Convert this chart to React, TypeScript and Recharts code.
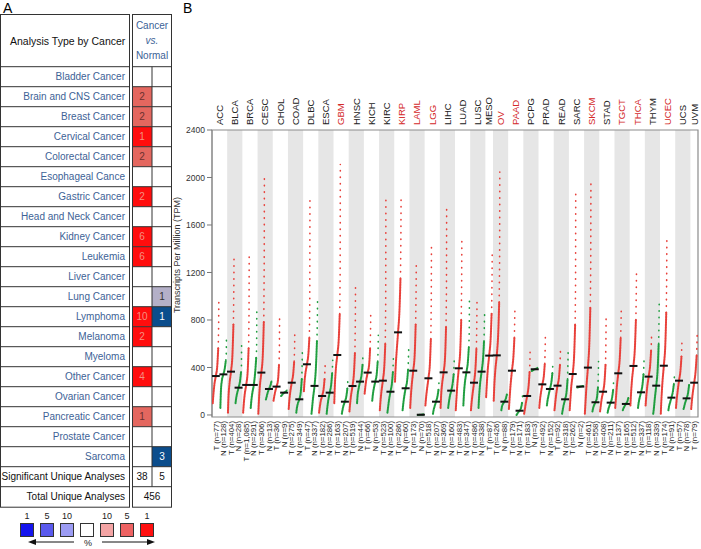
import React from 'react';
import { ScatterChart, Scatter, XAxis, YAxis, ReferenceArea } from 'recharts';

// ---- panel A data (Oncomine summary) ----
const analysisTypes = [
  'Bladder Cancer', 'Brain and CNS Cancer', 'Breast Cancer', 'Cervical Cancer',
  'Colorectal Cancer', 'Esophageal Cance', 'Gastric Cancer', 'Head and Neck Cancer',
  'Kidney Cancer', 'Leukemia', 'Liver Cancer', 'Lung Cancer', 'Lymphoma', 'Melanoma',
  'Myeloma', 'Other Cancer', 'Ovarian Cancer', 'Pancreatic Cancer', 'Prostate Cancer', 'Sarcoma',
];
const overCounts = [0, 2, 2, 1, 2, 0, 2, 0, 6, 6, 0, 0, 10, 2, 0, 4, 0, 1, 0, 0];
const overRank = [0, 5, 5, 1, 5, 0, 1, 0, 1, 1, 0, 0, 1, 1, 0, 1, 0, 5, 0, 0];
const underCounts = [0, 0, 0, 0, 0, 0, 0, 0, 0, 0, 0, 1, 1, 0, 0, 0, 0, 0, 0, 3];
const underRank = [0, 0, 0, 0, 0, 0, 0, 0, 0, 0, 0, 10, 1, 0, 0, 0, 0, 0, 0, 1];
const significantUnique = [38, 5];
const totalUnique = 456;
const legendSteps = ['1', '5', '10', '', '10', '5', '1'];

// ---- panel B data (GEPIA dot plot) ----
const cancers = [
  'ACC', 'BLCA', 'BRCA', 'CESC', 'CHOL', 'COAD', 'DLBC', 'ESCA', 'GBM', 'HNSC', 'KICH',
  'KIRC', 'KIRP', 'LAML', 'LGG', 'LIHC', 'LUAD', 'LUSC', 'MESO', 'OV', 'PAAD', 'PCPG',
  'PRAD', 'READ', 'SARC', 'SKCM', 'STAD', 'TGCT', 'THCA', 'THYM', 'UCEC', 'UCS', 'UVM',
];
const highlightedCancers = ['GBM', 'KIRP', 'LAML', 'LGG', 'OV', 'PAAD', 'SKCM', 'TGCT', 'THCA', 'UCEC'];
const sampleLabels = [
  'T (n=77)', 'N (n=128)', 'T (n=404)', 'N (n=28)', 'T (n=1,085)', 'N (n=291)', 'T (n=306)', 'N (n=13)',
  'T (n=36)', 'N (n=9)', 'T (n=275)', 'N (n=349)', 'T (n=47)', 'N (n=337)', 'T (n=182)', 'N (n=286)',
  'T (n=163)', 'N (n=207)', 'T (n=519)', 'N (n=44)', 'T (n=66)', 'N (n=53)', 'T (n=523)', 'N (n=100)',
  'T (n=286)', 'N (n=60)', 'T (n=173)', 'N (n=70)', 'T (n=518)', 'N (n=207)', 'T (n=369)', 'N (n=160)',
  'T (n=483)', 'N (n=347)', 'T (n=486)', 'N (n=338)', 'T (n=87)', 'T (n=426)', 'N (n=88)', 'T (n=179)',
  'N (n=171)', 'T (n=183)', 'N (n=3)', 'T (n=492)', 'N (n=152)', 'T (n=92)', 'N (n=318)', 'T (n=262)',
  'N (n=2)', 'T (n=461)', 'N (n=558)', 'T (n=408)', 'N (n=211)', 'T (n=137)', 'N (n=165)', 'T (n=512)',
  'N (n=337)', 'T (n=118)', 'N (n=339)', 'T (n=174)', 'N (n=91)', 'T (n=57)', 'N (n=78)', 'T (n=79)',
];
// TPM read at ranks 0, 10, 25, 50, 75, 90, 97, 100 % of each sample group
const rankFractions = [0, 0.1, 0.25, 0.5, 0.75, 0.9, 0.97, 1];
const tpmByRank = [
  [100, 170, 250, 328, 420, 560, 750, 990],
  [60, 210, 290, 342, 400, 460, 500, 630],
  [20, 160, 260, 365, 520, 760, 1070, 1330],
  [100, 140, 180, 230, 290, 360, 410, 620],
  [20, 90, 170, 253, 370, 560, 860, 1360],
  [60, 120, 180, 253, 370, 480, 560, 870],
  [10, 120, 240, 357, 520, 780, 1300, 2030],
  [130, 150, 180, 219, 250, 280, 295, 300],
  [120, 150, 190, 239, 300, 420, 540, 840],
  [160, 165, 175, 188, 195, 205, 210, 212],
  [50, 120, 190, 272, 350, 450, 560, 700],
  [20, 60, 95, 132, 200, 300, 450, 550],
  [200, 280, 350, 427, 520, 650, 950, 1815],
  [10, 60, 140, 245, 420, 620, 820, 980],
  [20, 60, 110, 160, 220, 300, 380, 420],
  [10, 60, 120, 188, 260, 350, 420, 460],
  [100, 250, 380, 505, 650, 850, 1200, 2110],
  [10, 40, 75, 112, 160, 220, 280, 300],
  [30, 90, 160, 244, 360, 520, 800, 1110],
  [100, 170, 220, 281, 340, 420, 500, 520],
  [180, 230, 290, 357, 430, 560, 700, 840],
  [120, 170, 220, 281, 350, 450, 550, 670],
  [40, 110, 190, 289, 420, 600, 950, 1836],
  [20, 60, 120, 196, 270, 360, 460, 505],
  [280, 400, 520, 696, 900, 1150, 1500, 1836],
  [40, 90, 150, 225, 290, 380, 500, 550],
  [60, 150, 250, 373, 520, 760, 1050, 1265],
  [0, 0, 1, 2, 3, 4, 5, 6],
  [80, 140, 210, 309, 440, 640, 970, 1415],
  [10, 40, 70, 112, 160, 210, 260, 290],
  [60, 170, 260, 359, 500, 740, 1050, 1740],
  [60, 100, 150, 205, 270, 340, 420, 470],
  [40, 130, 250, 393, 560, 800, 1100, 1460],
  [80, 180, 270, 359, 450, 570, 700, 970],
  [40, 100, 170, 272, 400, 560, 800, 970],
  [60, 160, 260, 365, 480, 620, 800, 860],
  [150, 250, 370, 500, 650, 850, 1140, 1350],
  [120, 250, 370, 502, 700, 950, 1300, 2045],
  [40, 70, 90, 112, 140, 170, 200, 220],
  [50, 130, 240, 373, 500, 650, 850, 910],
  [0, 8, 20, 36, 60, 100, 140, 170],
  [10, 40, 90, 160, 250, 360, 480, 575],
  [370, 372, 378, 385, 390, 395, 400, 402],
  [60, 120, 180, 258, 330, 430, 560, 660],
  [80, 120, 160, 219, 280, 350, 420, 450],
  [40, 90, 160, 247, 320, 420, 520, 560],
  [10, 40, 80, 132, 200, 300, 450, 550],
  [40, 120, 230, 345, 520, 760, 1100, 1868],
  [232, 233, 235, 239, 242, 244, 245, 246],
  [10, 100, 230, 399, 620, 900, 1280, 1980],
  [30, 55, 80, 107, 150, 230, 350, 450],
  [30, 70, 130, 196, 290, 420, 620, 830],
  [20, 45, 70, 104, 150, 210, 270, 300],
  [60, 130, 230, 351, 480, 650, 820, 910],
  [40, 55, 70, 93, 115, 140, 170, 190],
  [80, 180, 290, 413, 580, 800, 1050, 1200],
  [60, 100, 140, 191, 260, 340, 430, 480],
  [80, 150, 230, 323, 420, 540, 650, 690],
  [10, 50, 130, 247, 400, 600, 850, 980],
  [10, 130, 260, 415, 600, 860, 1150, 1500],
  [40, 70, 100, 146, 200, 260, 310, 330],
  [60, 120, 190, 289, 380, 490, 600, 640],
  [50, 70, 100, 140, 190, 250, 290, 300],
  [50, 110, 180, 272, 380, 500, 620, 690],
];
const yTicks = [0, 400, 800, 1200, 1600, 2000, 2400];

const FONT = '"Liberation Sans", Arial, Helvetica, sans-serif';
const BLUE_TEXT = '#3d6296';
const RED = '#e8403a';
const GREEN = '#1f9e3f';
const overFill: Record<number, string> = { 1: '#ff0d0d', 5: '#e4675f', 10: '#f3aaa6' };
const underFill: Record<number, string> = { 1: '#0b4d8c', 5: '#6464e6', 10: '#b4b0c8' };
const legendFill = ['#1414ee', '#5a5aee', '#9c9cf4', '#ffffff', '#f4a4a4', '#ee6262', '#ff1010'];

// cancer bands: a new band starts at every tumour (T) column
const bands = (() => {
  const out: { name: string; start: number; end: number }[] = [];
  sampleLabels.forEach((l, i) => {
    if (l.startsWith('T')) out.push({ name: cancers[out.length], start: i, end: i + 1 });
    else out[out.length - 1].end = i + 1;
  });
  return out;
})();
const bandCenters = bands.map((b) => (b.start + b.end) / 2);
const slotCenters = sampleLabels.map((_, i) => i + 0.5);

const ROW_H = 20;
const HEAD_TOP = 14;
const HEAD_BOT = 66.7;

function PanelA() {
  const rows = [...analysisTypes, 'Significant Unique Analyses', 'Total Unique Analyses'];
  const bottom = HEAD_BOT + rows.length * ROW_H;
  const rowY = (i: number) => HEAD_BOT + i * ROW_H;
  return (
    <svg width={200} height={549} style={{ position: 'absolute', left: 0, top: 0 }} fontFamily={FONT}>
      <text x={3} y={13} fontSize={14}>A</text>
      <text x={183} y={13} fontSize={14}>B</text>
      {overCounts.map((c, i) =>
        c ? <rect key={'o' + i} x={132.5} y={rowY(i)} width={19.5} height={ROW_H} fill={overFill[overRank[i]]} /> : null
      )}
      {underCounts.map((c, i) =>
        c ? <rect key={'u' + i} x={152} y={rowY(i)} width={19.5} height={ROW_H} fill={underFill[underRank[i]]} /> : null
      )}
      <rect x={0.5} y={HEAD_TOP + 0.5} width={129} height={bottom - HEAD_TOP} fill="none" stroke="#333" />
      <rect x={132.5} y={HEAD_TOP + 0.5} width={39} height={bottom - HEAD_TOP} fill="none" stroke="#333" />
      {rows.map((_, i) => (
        <g key={'l' + i}>
          <line x1={0.5} x2={129.5} y1={rowY(i)} y2={rowY(i)} stroke="#333" />
          <line x1={132.5} x2={171.5} y1={rowY(i)} y2={rowY(i)} stroke="#333" />
        </g>
      ))}
      <line x1={152} x2={152} y1={HEAD_BOT} y2={rowY(rows.length - 1)} stroke="#333" />
      <text x={10} y={45} fontSize={10.5} fill="#111">Analysis Type by Cancer</text>
      <text x={152} y={29} fontSize={10} fill={BLUE_TEXT} textAnchor="middle">Cancer</text>
      <text x={152} y={44} fontSize={10} fill={BLUE_TEXT} textAnchor="middle" fontStyle="italic">vs.</text>
      <text x={152} y={59} fontSize={10} fill={BLUE_TEXT} textAnchor="middle">Normal</text>
      {rows.map((r, i) => (
        <text key={'t' + i} x={125} y={rowY(i) + 13.5} fontSize={10} textAnchor="end"
          fill={i < analysisTypes.length ? BLUE_TEXT : '#111'}>{r}</text>
      ))}
      {overCounts.map((c, i) =>
        c ? <text key={'oc' + i} x={142} y={rowY(i) + 13.5} fontSize={10} textAnchor="middle"
          fill={overRank[i] === 1 ? '#f59080' : '#6a3030'}>{c}</text> : null
      )}
      {underCounts.map((c, i) =>
        c ? <text key={'uc' + i} x={162} y={rowY(i) + 13.5} fontSize={10} textAnchor="middle"
          fill={underRank[i] === 1 ? '#ffffff' : '#333'}>{c}</text> : null
      )}
      <text x={142} y={rowY(20) + 13.5} fontSize={10} textAnchor="middle" fill="#111">{significantUnique[0]}</text>
      <text x={162} y={rowY(20) + 13.5} fontSize={10} textAnchor="middle" fill="#111">{significantUnique[1]}</text>
      <text x={152} y={rowY(21) + 13.5} fontSize={10} textAnchor="middle" fill="#111">{totalUnique}</text>
      {legendSteps.map((s, k) => (
        <g key={'lg' + k}>
          <text x={27 + 20 * k} y={519} fontSize={9} textAnchor="middle" fill="#222">{s}</text>
          <rect x={20.5 + 20 * k} y={523.5} width={13} height={13} fill={legendFill[k]} stroke="#333" />
        </g>
      ))}
      <line x1={34} x2={74} y1={542} y2={542} stroke="#111" />
      <polygon points="28,542 36,539 36,545" fill="#111" />
      <text x={88} y={546} fontSize={9} textAnchor="middle" fill="#222">%</text>
      <line x1={102} x2={148} y1={542} y2={542} stroke="#111" />
      <polygon points="155,542 147,539 147,545" fill="#111" />
    </svg>
  );
}

const TopTick = (props: any) => {
  const { x, y, payload } = props;
  const band = bands[bandCenters.indexOf(payload.value)];
  if (!band) return null;
  const hot = highlightedCancers.includes(band.name);
  return (
    <text x={x} y={y} transform={`rotate(-90 ${x} ${y})`} textAnchor="start" dy="0.35em"
      fontSize={9.5} fill={hot ? '#d42a2a' : '#222'} fontFamily={FONT}>{band.name}</text>
  );
};

const BottomTick = (props: any) => {
  const { x, y, payload } = props;
  const label = sampleLabels[Math.floor(payload.value)];
  return (
    <text x={x} y={y} transform={`rotate(-90 ${x} ${y})`} textAnchor="end" dy="0.35em"
      fontSize={7.8} fill="#222" fontFamily={FONT}>{label}</text>
  );
};

const Empty = () => <g />;
const MedianBar = (p: any) => <rect x={p.cx - 4} y={p.cy - 1} width={8} height={2} fill="#111" />;

const YTitle = (props: any) => {
  const vb = props.viewBox || { x: 0, y: 130, width: 42, height: 287 };
  const cx = vb.x + 10;
  const cy = 255;
  return (
    <text x={cx} y={cy} transform={`rotate(-90 ${cx} ${cy})`} textAnchor="middle" fontSize={9}
      fill="#333" fontFamily={FONT}>Transcripts Per Million (TPM)</text>
  );
};

function PanelB() {
  const medians = tpmByRank.map((q, i) => ({ x: i + 0.5, y: q[3] }));
  return (
    <div style={{ position: 'absolute', left: 170, top: 0 }}>
      <ScatterChart width={531} height={549} margin={{ top: 0, right: 3, bottom: 0, left: 0 }}
        style={{ fontFamily: FONT }}>
        <XAxis xAxisId="top" orientation="top" type="number" dataKey="x" domain={[0, 64]}
          ticks={bandCenters} interval={0} height={130} tick={<TopTick />} tickLine={false}
          axisLine={false} tickSize={0} tickMargin={5} allowDataOverflow />
        <XAxis xAxisId="bottom" orientation="bottom" type="number" dataKey="x" domain={[0, 64]}
          ticks={slotCenters} interval={0} height={132} tick={<BottomTick />} tickLine={false}
          axisLine={false} tickSize={0} tickMargin={4} allowDataOverflow />
        <YAxis type="number" dataKey="y" domain={[-17, 2400]} ticks={yTicks} interval={0} width={42}
          allowDataOverflow tick={{ fontSize: 8.5, fill: '#333' }} tickSize={5}
          tickLine={{ stroke: '#777' }} axisLine={{ stroke: '#8c8c8c' }} label={<YTitle />} />
        {bands.map((b, k) =>
          k % 2 === 1 ? (
            <ReferenceArea key={'band' + k} xAxisId="top" x1={b.start} x2={b.end} y1={-17} y2={2400}
              fill="#e6e6e6" fillOpacity={1} stroke="none" ifOverflow="hidden" />
          ) : null
        )}
        {tpmByRank.map((q, i) => {
          const color = sampleLabels[i].startsWith('T') ? RED : GREEN;
          const pts = q.map((v, k) => ({ x: i + 0.1 + 0.8 * rankFractions[k], y: v }));
          return (
            <React.Fragment key={'col' + i}>
              <Scatter xAxisId="bottom" data={pts.slice(0, 6)} shape={Empty} lineJointType="monotoneX"
                line={{ stroke: color, strokeWidth: 2.1, strokeDasharray: '0.5 1.1', strokeLinecap: 'round' }}
                isAnimationActive={false} />
              <Scatter xAxisId="bottom" data={pts.slice(5)} shape={Empty} lineJointType="linear"
                line={{ stroke: color, strokeWidth: 1.6, strokeDasharray: '0.5 6', strokeLinecap: 'round' }}
                isAnimationActive={false} />
            </React.Fragment>
          );
        })}
        <Scatter xAxisId="bottom" data={medians} shape={MedianBar} isAnimationActive={false} />
        <ReferenceArea xAxisId="top" x1={0} x2={64} y1={-17} y2={2400} fill="none"
          stroke="#8c8c8c" strokeWidth={1.2} />
      </ScatterChart>
    </div>
  );
}

export default function App() {
  return (
    <div style={{ position: 'absolute', left: 0, top: 0, width: 701, height: 549, background: '#fff' }}>
      <PanelB />
      <PanelA />
    </div>
  );
}
